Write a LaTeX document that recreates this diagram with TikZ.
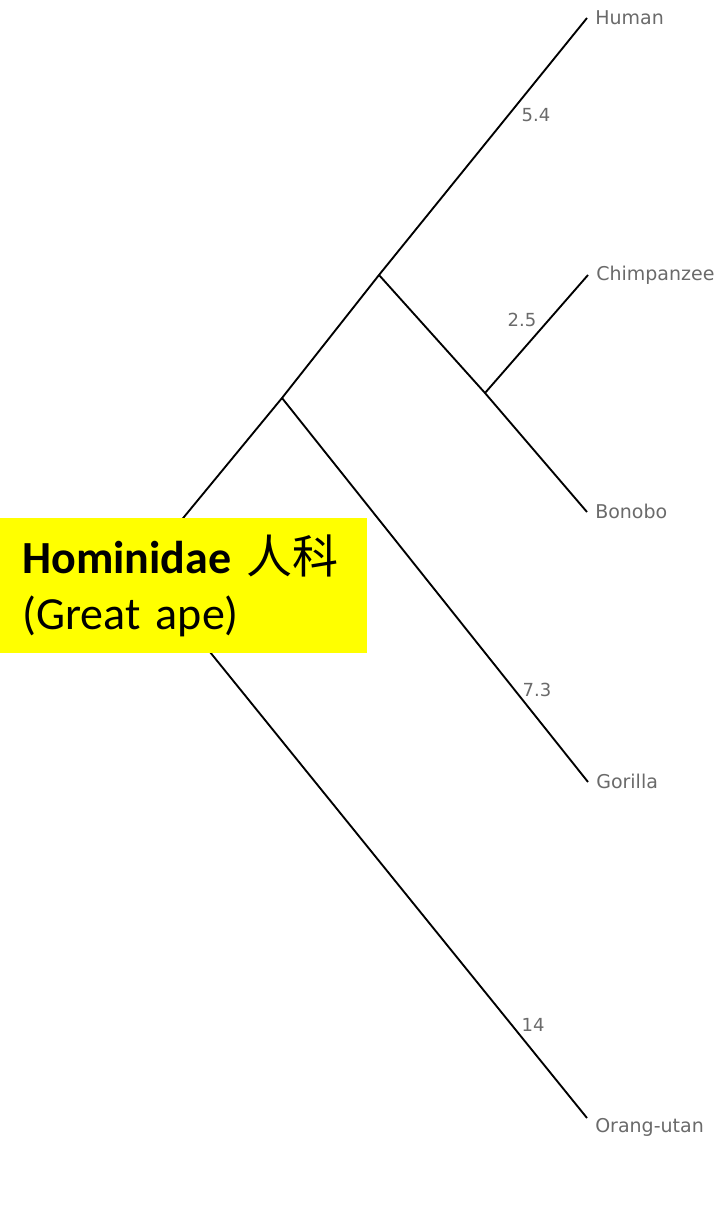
\documentclass[tikz,border=0pt]{standalone}
\usepackage{fontspec}
\usepackage{xcolor}
\usetikzlibrary{positioning}
\newfontfamily\treefont{DejaVu Sans}
\newfontfamily\boxfont{Carlito}
\newfontfamily\hanfont{Noto Sans CJK SC}
\definecolor{labelgrey}{HTML}{6A6A6A}
\definecolor{cladeyellow}{HTML}{FFFF00}

\begin{document}
\begin{tikzpicture}[
    x=0.75pt, y=-0.75pt,
    branch/.style={draw=black, line width=1.4pt},
    leaf/.style={font=\treefont\fontsize{14.25}{16}\selectfont, text=labelgrey, anchor=west, inner sep=0pt, text height=10pt, text depth=0pt},
    blen/.style={font=\treefont\fontsize{13.5}{15}\selectfont, text=labelgrey, inner sep=0pt},
    cladebox/.style={fill=cladeyellow, anchor=north west, align=left, text width=242pt, minimum height=101.25pt, inner xsep=16.5pt, inner ysep=0pt, font=\boxfont\fontsize{34.5}{42}\selectfont}
]
\useasboundingbox (0,0) rectangle (720,1212);

% Junctions and tips
\coordinate (root) at (142,568);
\coordinate (gor) at (282,398);
\coordinate (hom) at (379,275);
\coordinate (pan) at (485,393);
\coordinate (thuman) at (587,18);
\coordinate (tchimp) at (588,275);
\coordinate (tbonobo) at (587,512);
\coordinate (tgorilla) at (588,782);
\coordinate (torang) at (587,1118);

% Branches
\draw[branch] (root) -- (gor) -- (hom) -- (thuman);
\draw[branch] (hom) -- (pan) -- (tbonobo);
\draw[branch] (pan) -- (tchimp);
\draw[branch] (gor) -- (tgorilla);
\draw[branch] (root) -- (torang);

% Species
\node[leaf, right=6pt of thuman] (human) {Human};
\node[leaf, right=6pt of tchimp, yshift=1pt] (chimp) {Chimpanzee};
\node[leaf, right=6pt of tbonobo] (bonobo) {Bonobo};
\node[leaf, right=6pt of tgorilla] (gorilla) {Gorilla};
\node[leaf, right=6pt of torang, yshift=-6pt] (orang) {Orang-utan};

% Branch lengths
\node[blen] (l54) at (536,115) {5.4};
\node[blen] (l25) at (522,320) {2.5};
\node[blen] (l73) at (537,690) {7.3};
\node[blen] (l14) at (533,1025) {14};

% Family
\node[cladebox] (hominidae) at (0,518) {\textbf{Hominidae} {\hanfont 人科}\\(Great ape)};

\end{tikzpicture}
\end{document}
